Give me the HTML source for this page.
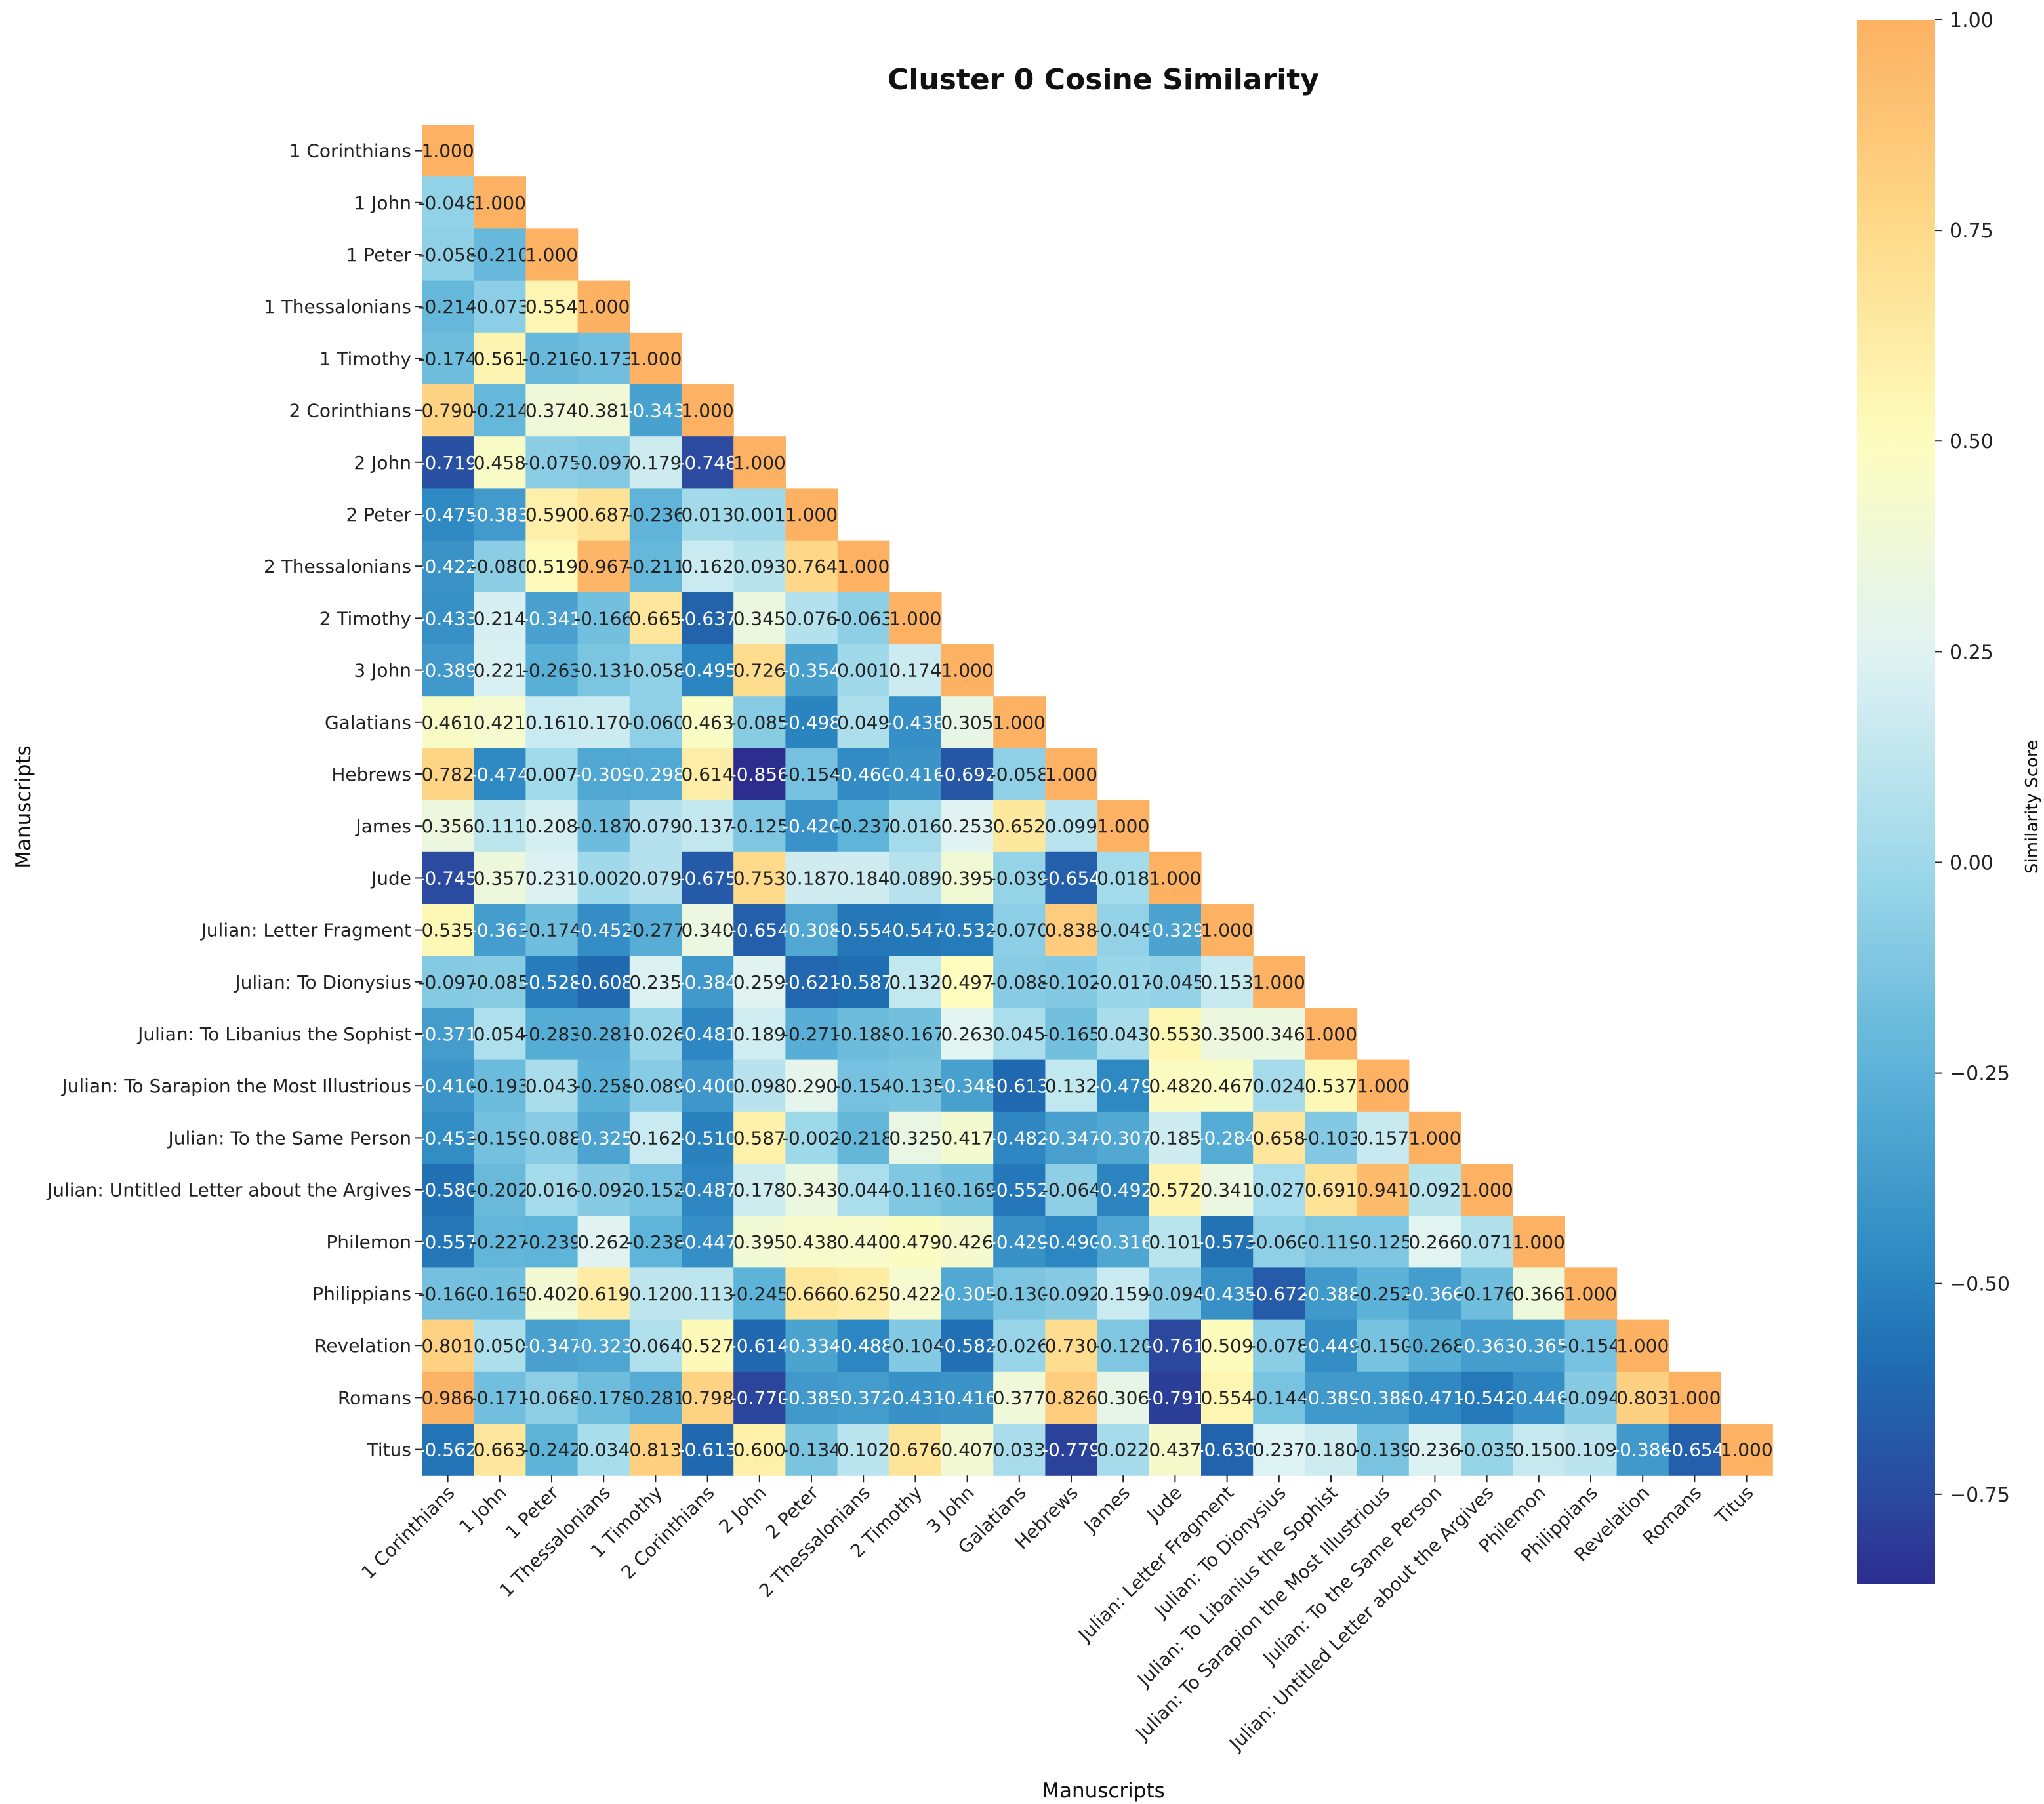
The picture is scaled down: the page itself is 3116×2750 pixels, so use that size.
<!DOCTYPE html>
<html><head><meta charset="utf-8"><style>
html,body{margin:0;padding:0;background:#fff;}
svg{display:block;font-family:"DejaVu Sans","Liberation Sans",sans-serif;}
</style></head><body>
<svg id="chart" width="3116" height="2750" viewBox="0 0 3116 2750" xmlns="http://www.w3.org/2000/svg">
<text x="1682" y="136" text-anchor="middle" font-size="44" font-weight="bold" fill="#111">Cluster 0 Cosine Similarity</text>
<text x="1682" y="2740" text-anchor="middle" font-size="31" fill="#111">Manuscripts</text>
<text transform="translate(46,1230) rotate(-90)" text-anchor="middle" font-size="31" fill="#111">Manuscripts</text>
<text transform="translate(3106,1230) rotate(-90)" text-anchor="middle" font-size="26" fill="#111">Similarity Score</text>
<defs><linearGradient id="cbgrad" x1="0" y1="0" x2="0" y2="1"></linearGradient></defs>
<g id="cells"></g>
<g id="labels"></g>
<g id="cbar"></g>
</svg>
<script>
const names = ["1 Corinthians","1 John","1 Peter","1 Thessalonians","1 Timothy","2 Corinthians","2 John","2 Peter","2 Thessalonians","2 Timothy","3 John","Galatians","Hebrews","James","Jude","Julian: Letter Fragment","Julian: To Dionysius","Julian: To Libanius the Sophist","Julian: To Sarapion the Most Illustrious","Julian: To the Same Person","Julian: Untitled Letter about the Argives","Philemon","Philippians","Revelation","Romans","Titus"];
const lowerRows = [
[],
[-0.048],
[-0.058,-0.210],
[-0.214,-0.073,0.554],
[-0.174,0.561,-0.210,-0.173],
[0.790,-0.214,0.374,0.381,-0.343],
[-0.719,0.458,-0.075,-0.097,0.179,-0.748],
[-0.475,-0.383,0.590,0.687,-0.236,0.013,0.001],
[-0.422,-0.080,0.519,0.967,-0.211,0.162,0.093,0.764],
[-0.433,0.214,-0.341,-0.166,0.665,-0.637,0.345,0.076,-0.063],
[-0.389,0.221,-0.263,-0.131,-0.058,-0.495,0.726,-0.354,0.001,0.174],
[0.461,0.421,0.161,0.170,-0.060,0.463,-0.085,-0.498,0.049,-0.438,0.305],
[0.782,-0.474,0.007,-0.309,-0.298,0.614,-0.856,-0.154,-0.460,-0.416,-0.692,-0.058],
[0.356,0.111,0.208,-0.187,0.079,0.137,-0.125,-0.420,-0.237,0.016,0.253,0.652,0.099],
[-0.745,0.357,0.231,0.002,0.079,-0.675,0.753,0.187,0.184,0.089,0.395,-0.039,-0.654,0.018],
[0.535,-0.363,-0.174,-0.452,-0.277,0.340,-0.654,-0.308,-0.554,-0.547,-0.532,-0.070,0.838,-0.049,-0.329],
[-0.097,-0.085,-0.528,-0.608,0.235,-0.384,0.259,-0.621,-0.587,0.132,0.497,-0.088,-0.102,-0.017,-0.045,0.153],
[-0.371,0.054,-0.283,-0.281,-0.026,-0.481,0.189,-0.271,-0.188,-0.167,0.263,0.045,-0.165,0.043,0.553,0.350,0.346],
[-0.410,-0.193,0.043,-0.258,-0.089,-0.400,0.098,0.290,-0.154,-0.135,-0.348,-0.613,0.132,-0.479,0.482,0.467,0.024,0.537],
[-0.453,-0.159,-0.088,-0.325,0.162,-0.510,0.587,-0.002,-0.218,0.325,0.417,-0.482,-0.347,-0.307,0.185,-0.284,0.658,-0.103,0.157],
[-0.580,-0.202,0.016,-0.092,-0.152,-0.487,0.178,0.343,0.044,-0.116,-0.169,-0.552,-0.064,-0.492,0.572,0.341,0.027,0.691,0.941,0.092],
[-0.557,-0.227,-0.239,0.262,-0.238,-0.447,0.395,0.438,0.440,0.479,0.426,-0.429,-0.490,-0.316,0.101,-0.573,-0.060,-0.119,-0.125,0.266,0.071],
[-0.160,-0.165,0.402,0.619,0.120,0.113,-0.245,0.666,0.625,0.422,-0.305,-0.130,-0.092,0.159,-0.094,-0.435,-0.672,-0.388,-0.252,-0.366,-0.176,0.366],
[0.801,0.050,-0.347,-0.323,0.064,0.527,-0.614,-0.334,-0.488,-0.104,-0.582,-0.026,0.730,-0.120,-0.761,0.509,-0.078,-0.449,-0.150,-0.268,-0.363,-0.365,-0.154],
[0.986,-0.171,-0.068,-0.178,-0.281,0.798,-0.770,-0.385,-0.372,-0.431,-0.416,0.377,0.826,0.306,-0.791,0.554,-0.144,-0.389,-0.388,-0.471,-0.542,-0.446,-0.094,0.803],
[-0.562,0.663,-0.242,0.034,0.813,-0.613,0.600,-0.134,0.102,0.676,0.407,0.033,-0.779,0.022,0.437,-0.630,0.237,0.180,-0.139,0.236,-0.035,0.150,0.109,-0.386,-0.654]
];
const cbTicks = [1.00,0.75,0.50,0.25,0.00,-0.25,-0.50,-0.75];
const vmin = -0.856, vmax = 1.0;

const NS = "http://www.w3.org/2000/svg";
const gx0 = 643, gy0 = 190, cell = 79.2;
const xPos = i => gx0 + i*cell;
const yPos = i => gy0 + i*cell;
const stops = [[-0.856,[44,46,143]],[-0.75,[43,74,160]],[-0.6,[31,107,176]],[-0.5,[42,132,192]],[-0.25,[92,178,216]],[0,[159,217,234]],[0.25,[224,243,243]],[0.5,[254,253,190]],[0.75,[254,218,138]],[1.0,[253,177,99]]];
function color(v){
  if(v<=stops[0][0]) return "rgb("+stops[0][1].join(",")+")";
  for(let k=1;k<stops.length;k++){
    if(v<=stops[k][0]){
      const a=stops[k-1],b=stops[k],t=(v-a[0])/(b[0]-a[0]);
      return "rgb("+a[1].map((c,i)=>Math.round(c+(b[1][i]-c)*t)).join(",")+")";
    }
  }
  return "rgb("+stops[stops.length-1][1].join(",")+")";
}
function el(tag,attrs,parent){const e=document.createElementNS(NS,tag);for(const k in attrs)e.setAttribute(k,attrs[k]);parent.appendChild(e);return e;}
const gc=document.getElementById("cells"), gl=document.getElementById("labels"), gb=document.getElementById("cbar");
for(let i=0;i<names.length;i++){
  const row = lowerRows[i].concat([1.0]);
  for(let j=0;j<row.length;j++){
    const v=row[j];
    const r=el("rect",{x:xPos(j),y:yPos(i),width:cell+0.6,height:cell+0.6,fill:color(v)},gc);
    
    
    const t=el("text",{x:xPos(j)+cell/2,y:yPos(i)+cell/2+10,"text-anchor":"middle","font-size":28,fill:(v<=-0.284?"#fff":"#222")},gc);
    t.textContent=v.toFixed(3);
    
    
  }
}
for(let i=0;i<names.length;i++){
  const cy=yPos(i)+cell/2, cx=xPos(i)+cell/2;
  el("line",{x1:gx0-10,y1:cy,x2:gx0,y2:cy,stroke:"#222","stroke-width":2},gl);
  const yl=el("text",{x:gx0-16,y:cy+10,"text-anchor":"end","font-size":28,fill:"#222"},gl);
  yl.textContent=names[i];
  
  
  const by=gy0+names.length*cell;
  el("line",{x1:cx,y1:by,x2:cx,y2:by+10,stroke:"#222","stroke-width":2},gl);
  const xl=el("text",{transform:"translate("+(cx+12)+","+(by+28)+") rotate(-45)","text-anchor":"end","font-size":28,fill:"#222"},gl);
  xl.textContent=names[i];
  
  
}
const cbTop=30, cbBot=2414, cbX=2831, cbW=119;
const cbY = v => cbTop + (vmax-v)/(vmax-vmin)*(cbBot-cbTop);
const grad=document.getElementById("cbgrad");
for(let k=0;k<=40;k++){const v=vmax-(vmax-vmin)*k/40;el("stop",{offset:(k/40),"stop-color":color(v)},grad);}
const cb=el("rect",{x:cbX,y:cbTop,width:cbW,height:cbBot-cbTop,fill:"url(#cbgrad)"},gb);


cbTicks.forEach(v=>{
  const y=cbY(v);
  el("line",{x1:cbX+cbW,y1:y,x2:cbX+cbW+10,y2:y,stroke:"#222","stroke-width":2},gb);
  const t=el("text",{x:cbX+cbW+22,y:y+11,"font-size":30,fill:"#222"},gb);
  t.textContent=(v<0?"\u2212":"")+Math.abs(v).toFixed(2);
  
  
});
</script>
</body></html>
